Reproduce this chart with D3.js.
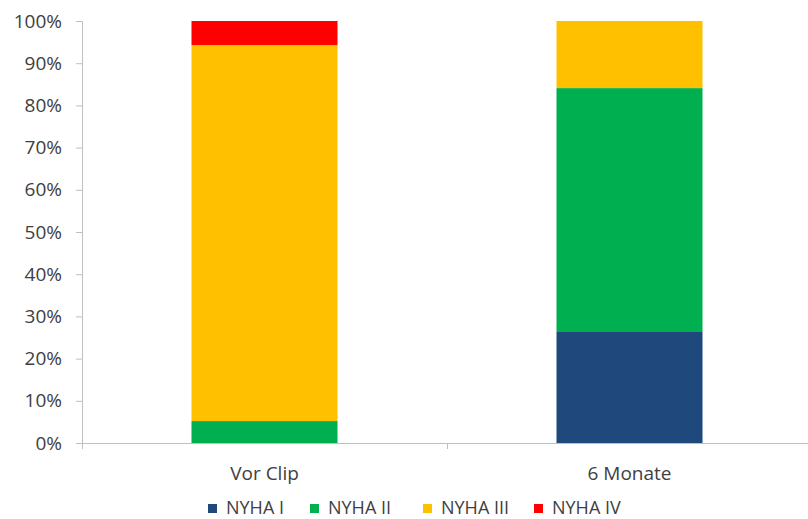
<!DOCTYPE html>
<html>
<head>
<meta charset="utf-8">
<script src="https://cdn.jsdelivr.net/npm/d3@7"></script>
<style>
  html, body { margin: 0; padding: 0; background: #fff; }
  svg { display: block; font-family: "Open Sans", "Liberation Sans", sans-serif; }
</style>
</head>
<body>
<svg id="chart" width="808" height="519"></svg>
<script>
// NYHA class distribution (percent of patients)
const categories = ["Vor Clip", "6 Monate"];
const seriesNames = ["NYHA I", "NYHA II", "NYHA III", "NYHA IV"];
const nyhaI   = [0, 26.3];
const nyhaII  = [5.2, 57.8];
const nyhaIII = [89.1, 15.9];
const nyhaIV  = [5.7, 0];
const colors  = ["#1f497d", "#00b050", "#ffc000", "#ff0000"];
const yTicks  = [0, 10, 20, 30, 40, 50, 60, 70, 80, 90, 100];

(function () {
  const rows = categories.map((c, i) => ({
    cat: c,
    "NYHA I": nyhaI[i],
    "NYHA II": nyhaII[i],
    "NYHA III": nyhaIII[i],
    "NYHA IV": nyhaIV[i]
  }));
  const stacked = d3.stack().keys(seriesNames)(rows);

  const svg = d3.select("#chart");
  const plotLeft = 82, plotRight = 812, plotTop = 21, plotBottom = 443;

  const x = d3.scaleBand().domain(categories).range([plotLeft, plotRight]).paddingInner(0.6).paddingOuter(0.3);
  const y = d3.scaleLinear().domain([0, 100]).range([plotBottom, plotTop]);

  const axisColor = "#bfbfbf";
  const textColor = "#404040";

  // Bars
  svg.append("g").selectAll("g")
    .data(stacked)
    .join("g")
    .attr("fill", (d, i) => colors[i])
    .selectAll("rect")
    .data(d => d)
    .join("rect")
    .attr("x", d => x(d.data.cat))
    .attr("width", x.bandwidth())
    .attr("y", d => y(d[1]))
    .attr("height", d => y(d[0]) - y(d[1]));

  // Y axis
  const yAxis = svg.append("g")
    .attr("transform", `translate(${plotLeft},0)`)
    .call(d3.axisLeft(y).tickValues(yTicks).tickFormat(d => d + "%").tickSize(6).tickPadding(14));
  yAxis.select(".domain").attr("stroke", axisColor);
  yAxis.selectAll(".tick line").attr("stroke", axisColor);
  yAxis.selectAll(".tick text").attr("fill", textColor).style("font-size", "19px")
    .style("font-family", "'Open Sans', 'Liberation Sans', sans-serif");

  // X axis baseline with tick marks between categories
  svg.append("line")
    .attr("x1", plotLeft).attr("x2", 808)
    .attr("y1", plotBottom + 0.5).attr("y2", plotBottom + 0.5)
    .attr("stroke", axisColor);
  const sepTicks = [plotLeft, plotLeft + x.step()];
  svg.append("g").selectAll("line")
    .data(sepTicks)
    .join("line")
    .attr("x1", d => d + 0.5).attr("x2", d => d + 0.5)
    .attr("y1", plotBottom).attr("y2", plotBottom + 6)
    .attr("stroke", axisColor);

  // Category labels
  svg.append("g").selectAll("text")
    .data(categories)
    .join("text")
    .attr("x", d => x(d) + x.bandwidth() / 2)
    .attr("y", 480)
    .attr("text-anchor", "middle")
    .attr("fill", textColor)
    .style("font-size", "19px")
    .text(d => d);

  // Legend
  const legendX = [208, 310, 423, 534];
  const legend = svg.append("g").selectAll("g")
    .data(seriesNames)
    .join("g")
    .attr("transform", (d, i) => `translate(${legendX[i]},504)`);
  legend.append("rect")
    .attr("width", 9).attr("height", 9)
    .attr("fill", (d, i) => colors[i]);
  legend.append("text")
    .attr("x", 18).attr("y", 10)
    .attr("fill", textColor)
    .style("font-size", "18px")
    .text(d => d);
})();
</script>
</body>
</html>
